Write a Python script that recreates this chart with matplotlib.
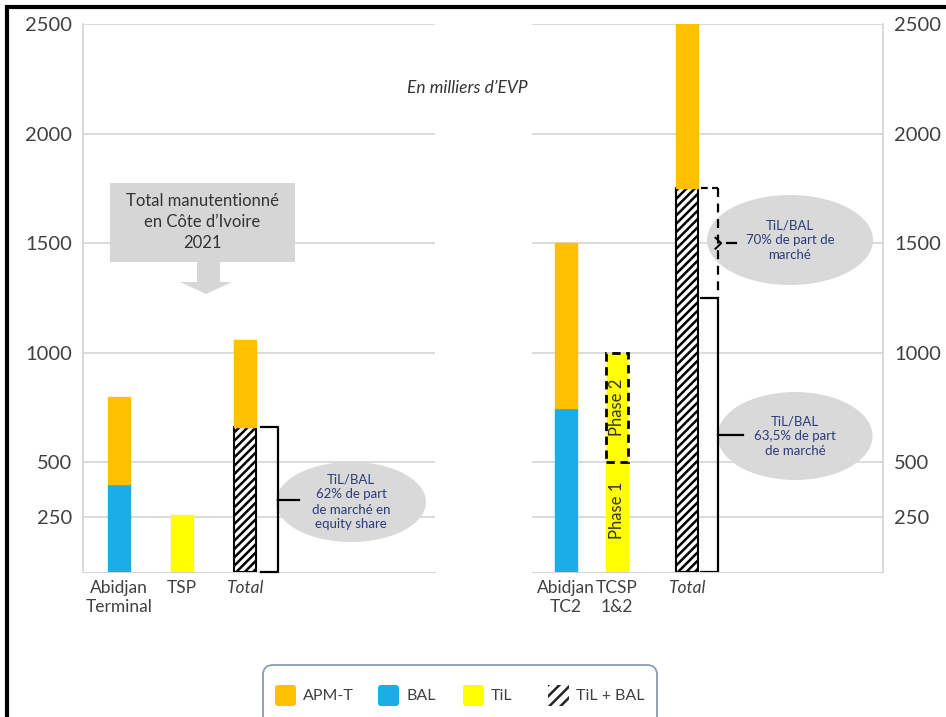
import matplotlib.pyplot as plt
import numpy as np
from matplotlib.patches import Ellipse, Rectangle, FancyBboxPatch, Polygon

plt.rcParams['font.family'] = ['Lato', 'DejaVu Sans']
plt.rcParams['hatch.linewidth'] = 1.8

# Data (milliers d'EVP)
left_cats = ["Abidjan\nTerminal", "TSP", "Total"]
left_bal = [400, 0, 0]
left_til = [0, 260, 0]
left_tilbal = [0, 0, 660]
left_apmt = [400, 0, 400]

right_cats = ["Abidjan\nTC2", "TCSP\n1&2", "Total"]
right_bal = [750, 0, 0]
right_til_ph1 = [0, 500, 0]
right_til_ph2 = [0, 500, 0]
right_tilbal_now = [0, 0, 1250]
right_tilbal_ext = [0, 0, 500]
right_apmt = [750, 0, 750]

yticks = [250, 500, 1000, 1500, 2000, 2500]

C_APMT = '#FFC000'
C_BAL = '#1AADE8'
C_TIL = '#FFFF00'
C_GRID = '#D4D4D4'
C_TXT = '#404040'
C_NOTE = '#2B3C78'
C_ELL = '#D9D9D9'

W, H = 946, 717
Y0, Y1 = 572, 24            # pixel rows of 0 and 2500
PXU = (Y0 - Y1) / 2500.0    # pixels per unit
unit = 63.0                 # pixels per x unit
bw = 0.35

fig = plt.figure(figsize=(W / 100, H / 100), dpi=100)


def px_axes(x0, x1):
    return fig.add_axes([x0 / W, 1 - Y0 / H, (x1 - x0) / W, (Y0 - Y1) / H])


def style(ax, side):
    ax.set_ylim(0, 2500)
    ax.set_yticks(yticks)
    ax.yaxis.grid(True, color=C_GRID, lw=1.2)
    ax.set_axisbelow(True)
    for s in ax.spines.values():
        s.set_visible(False)
    ax.spines['bottom'].set_visible(True)
    ax.spines['bottom'].set_color(C_GRID)
    ax.spines[side].set_visible(True)
    ax.spines[side].set_color(C_GRID)
    ax.spines[side].set_linewidth(1.2)
    ax.tick_params(axis='y', length=0, labelsize=14.5, labelcolor=C_TXT, pad=8)
    ax.tick_params(axis='x', length=0, labelsize=12.5, labelcolor=C_TXT, pad=6)
    if side == 'right':
        ax.yaxis.tick_right()


def bubble(ax, xc0, cx, cy, ew, eh, txt):
    # ellipse given in pixels, converted to data coords of ax (xc0 = pixel of x=0)
    ax.add_patch(Ellipse(((cx - xc0) / unit, (Y0 - cy) / PXU), ew / unit, eh / PXU,
                         color=C_ELL, lw=0, zorder=2))
    ax.text((cx - xc0) / unit, (Y0 - cy) / PXU, txt, ha='center', va='center',
            fontsize=9.5, color=C_NOTE, linespacing=1.3, zorder=5)


def seg(ax, x, h, bottom, **kw):
    # draw only the non-empty segments of a stack
    h = np.asarray(h, float)
    m = h > 0
    ax.bar(np.asarray(x)[m], h[m], bw, bottom=np.asarray(bottom)[m], zorder=3, **kw)


def solid(color):
    return dict(color=color, edgecolor=color, lw=1, joinstyle='round')


hatched = dict(color='white', edgecolor='black', hatch='////', lw=1.5)

# ---------- left panel ----------
axL = px_axes(83, 435)
style(axL, 'left')
xl = np.arange(3)
axL.set_xlim(-(119 - 83) / unit, (435 - 119) / unit)
b = np.zeros(3)
seg(axL, xl, left_bal, b, **solid(C_BAL))
b += left_bal
seg(axL, xl, left_til, b, **solid(C_TIL))
b += left_til
seg(axL, xl, left_tilbal, b, **hatched)
b += left_tilbal
seg(axL, xl, left_apmt, b, **solid(C_APMT))
axL.set_xticks(xl)
axL.set_xticklabels(left_cats)
axL.get_xticklabels()[2].set_style('italic')

bubble(axL, 119, 351, 502, 150, 80, "TiL/BAL\n62% de part\nde march\u00e9 en\nequity share")

# bracket left total
top = left_tilbal[2]
xb0, xb1 = 2 + bw / 2 + 0.08, 2.52
axL.plot([xb0, xb1, xb1, xb0], [top, top, 0, 0], color='black', lw=1.6,
         zorder=4, clip_on=False)
axL.plot([xb1, 2.85], [top * 0.5, top * 0.5], color='black', lw=1.6, zorder=4)

# ---------- right panel ----------
axR = px_axes(532, 883)
style(axR, 'right')
xr = np.array([0, 51, 121]) / unit
axR.set_xlim(-(566 - 532) / unit, (883 - 566) / unit)
tilbal_r = np.array(right_tilbal_now) + np.array(right_tilbal_ext)
b = np.zeros(3)
seg(axR, xr, right_bal, b, **solid(C_BAL))
b += right_bal
seg(axR, xr, right_til_ph1, b, **solid(C_TIL))
b += right_til_ph1
seg(axR, xr, right_til_ph2, b, color=C_TIL, edgecolor='black', ls=(0, (3, 2)), lw=2)
b += right_til_ph2
seg(axR, xr, tilbal_r, b, **hatched)
b += tilbal_r
seg(axR, xr, right_apmt, b, **solid(C_APMT))
axR.set_xticks(xr)
axR.set_xticklabels(right_cats)
axR.get_xticklabels()[2].set_style('italic')

axR.text(xr[1], right_til_ph1[1] / 2 + 30, "Phase 1", rotation=90, ha='center',
         va='center', fontsize=12, color='#333333', zorder=5)
axR.text(xr[1], right_til_ph1[1] + right_til_ph2[1] / 2, "Phase 2", rotation=90,
         ha='center', va='center', fontsize=12, color='#333333', zorder=5)

bubble(axR, 566, 790, 240, 166, 90, "TiL/BAL\n70% de part de\nmarch\u00e9")
bubble(axR, 566, 795, 436, 155, 88, "TiL/BAL\n63,5% de part\nde march\u00e9")

# brackets right total
lo = right_tilbal_now[2]
hi = lo + right_tilbal_ext[2]
xb0, xb1 = xr[2] + bw / 2 + 0.04, (718 - 566) / unit
axR.plot([xb0, xb1, xb1, xb0], [lo, lo, 0, 0], color='black', lw=1.6, zorder=4)
axR.plot([xb1, (743 - 566) / unit], [lo / 2, lo / 2], color='black', lw=1.6, zorder=4)
axR.plot([xb0, xb1], [hi, hi], color='black', lw=1.6, ls=(0, (3, 2)), zorder=4)
axR.plot([xb1, xb1], [hi, lo], color='black', lw=1.6, ls=(0, (4, 3)), zorder=4)
mid = (hi + lo) / 2
axR.plot([xb1 - 0.04, xb1 + 0.05, xb1 - 0.04], [mid + 25, mid, mid - 25],
         color='black', lw=1.4, zorder=4)
axR.plot([xb1 + 0.14, (736 - 566) / unit], [mid, mid], color='black', lw=1.6, zorder=4)

# ---------- overlay (pixel coordinates) ----------
ov = fig.add_axes([0, 0, 1, 1], zorder=10)
ov.set_xlim(0, W)
ov.set_ylim(H, 0)
ov.axis('off')
ov.patch.set_alpha(0)

# outer frame
ov.plot([7, 7, W], [H, 7, 7], color='black', lw=3, solid_joinstyle='miter')

ov.text(467, 88, "En milliers d\u2019EVP", style='italic', fontsize=12.5,
        color='#333333', ha='center', va='center')

# callout box + arrow
ov.add_patch(Rectangle((110, 183), 185, 79, color='#D6D6D6', lw=0))
ov.add_patch(Polygon([(197, 262), (220, 262), (220, 282), (232, 282), (206, 294),
                      (180, 282), (197, 282)], closed=True, color='#D6D6D6', lw=0))
ov.text(202, 222, "Total manutentionn\u00e9\nen C\u00f4te d\u2019Ivoire\n2021",
        ha='center', va='center', fontsize=12, color='#333333', linespacing=1.35)

# legend box
ov.add_patch(FancyBboxPatch((263, 665), 394, 80, boxstyle='round,pad=0,rounding_size=10',
                            facecolor='white', edgecolor='#8A9BB5', lw=1.3))
for (lx, lab, col) in [(275, "APM-T", C_APMT), (378, "BAL", C_BAL), (463, "TiL", C_TIL)]:
    ov.add_patch(FancyBboxPatch((lx, 685), 21, 21, boxstyle='round,pad=0,rounding_size=3',
                                facecolor=col, lw=0))
    ov.text(lx + 28, 696, lab, va='center', fontsize=11.5, color=C_TXT)
ov.add_patch(Rectangle((548, 685), 21, 21, facecolor='white', edgecolor='#222222',
                       lw=0, hatch='///'))
ov.text(576, 696, "TiL + BAL", va='center', fontsize=11.5, color=C_TXT)

fig.savefig('out.png', dpi=100)
